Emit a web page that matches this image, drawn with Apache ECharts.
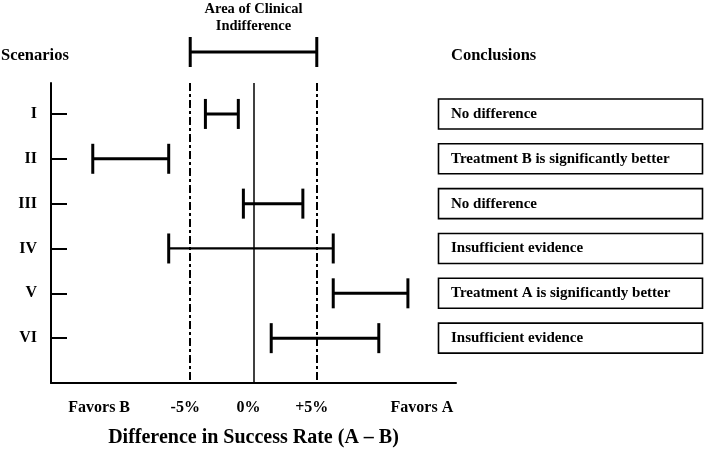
<!DOCTYPE html>
<html>
<head>
<meta charset="utf-8">
<script src="https://cdn.jsdelivr.net/npm/echarts@6/dist/echarts.min.js"></script>
<style>html,body{margin:0;padding:0;background:#fff}#c{width:705px;height:449px}</style>
</head>
<body>
<div id="c"></div>
<script>
// ---- data ----
var scenarios = ['I', 'II', 'III', 'IV', 'V', 'VI'];
var lowerBounds = [-3.8, -12.7, -0.8, -6.7, 6.3, 1.4];
var upperBounds = [-1.2, -6.7, 3.9, 6.3, 12.2, 9.9];
var conclusions = ['No difference', 'Treatment B is significantly better', 'No difference',
  'Insufficient evidence', 'Treatment A is significantly better', 'Insufficient evidence'];
var indifferenceRange = [-5, 5];
var referenceLines = [-5, 0, 5];
var xLabelValues = [-11.8, -5, 0, 5, 13.7];
var xLabelTexts = ['Favors B', '-5%', '0%', '+5%', 'Favors A'];

var FONT = '"Liberation Serif", "Times New Roman", serif';
var rows = scenarios.map(function (s, i) { return i + 1; });

var barData = scenarios.map(function (s, i) { return [lowerBounds[i], upperBounds[i], rows[i]]; });
var boxData = conclusions.map(function (t, i) { return { value: [0, rows[i]], name: t }; });

function capShape(x, y, h) { return { x1: x, y1: y - h, x2: x, y2: y + h }; }

var chart = echarts.init(document.getElementById('c'), null, { renderer: 'canvas' });
chart.setOption({
  animation: false,
  backgroundColor: '#fff',
  grid: { left: 51, top: 83, width: 405, height: 300, containLabel: false, outerBoundsMode: 'none' },
  xAxis: {
    type: 'value', min: -16, max: 16,
    axisLine: { show: true, onZero: false, lineStyle: { color: '#000', width: 2 } },
    axisTick: { show: false },
    splitLine: { show: false },
    axisLabel: {
      customValues: xLabelValues,
      formatter: function (v) { var i = xLabelValues.indexOf(v); return i >= 0 ? xLabelTexts[i] : ''; },
      fontFamily: FONT, fontWeight: 'bold', fontSize: 16, color: '#000', margin: 17,
      padding: [0, 10, 0, 0]
    },
    name: 'Difference in Success Rate (A \u2013 B)',
    nameLocation: 'middle', nameGap: 45,
    nameTextStyle: { fontFamily: FONT, fontWeight: 'bold', fontSize: 20, color: '#000' }
  },
  yAxis: {
    type: 'value', inverse: true, min: 0.31, max: 7,
    axisLine: { show: true, onZero: false, lineStyle: { color: '#000', width: 2 } },
    axisTick: { show: true, inside: true, length: 16, customValues: rows, lineStyle: { color: '#000', width: 2 } },
    splitLine: { show: false },
    axisLabel: {
      customValues: rows,
      formatter: function (v) { return scenarios[v - 1] || ''; },
      fontFamily: FONT, fontWeight: 'bold', fontSize: 16, color: '#000', margin: 14
    }
  },
  graphic: [
    { type: 'text', left: 1, top: 47, style: { text: 'Scenarios', font: 'bold 16.5px ' + FONT, fill: '#000' } },
    { type: 'text', left: 451, top: 47, style: { text: 'Conclusions', font: 'bold 16.5px ' + FONT, fill: '#000' } }
  ],
  series: [
    {
      type: 'custom', name: 'scenarios', clip: false,
      data: barData,
      renderItem: function (params, api) {
        var s = api.coord([api.value(0), api.value(2)]);
        var e = api.coord([api.value(1), api.value(2)]);
        var lw = scenarios[params.dataIndex] === 'IV' ? 2.2 : 3;
        return {
          type: 'group', children: [
            { type: 'line', shape: { x1: s[0], y1: s[1], x2: e[0], y2: e[1] }, style: { stroke: '#000', lineWidth: lw } },
            { type: 'line', shape: capShape(s[0], s[1], 15), style: { stroke: '#000', lineWidth: 3 } },
            { type: 'line', shape: capShape(e[0], e[1], 15), style: { stroke: '#000', lineWidth: 3 } }
          ]
        };
      },
      markLine: {
        silent: true, symbol: 'none', label: { show: false },
        data: referenceLines.map(function (v) {
          return {
            xAxis: v,
            lineStyle: v === 0 ? { color: '#000', width: 1.5, type: 'solid' }
                               : { color: '#000', width: 2, type: [8, 3, 3, 3] }
          };
        })
      },
      z: 3
    },
    {
      type: 'custom', name: 'indifference', clip: false,
      data: [[indifferenceRange[0], indifferenceRange[1], 1]],
      renderItem: function (params, api) {
        var x1 = api.coord([api.value(0), 1])[0];
        var x2 = api.coord([api.value(1), 1])[0];
        var y = 52;
        return {
          type: 'group', children: [
            { type: 'line', shape: { x1: x1, y1: y, x2: x2, y2: y }, style: { stroke: '#000', lineWidth: 3 } },
            { type: 'line', shape: capShape(x1, y, 15), style: { stroke: '#000', lineWidth: 3 } },
            { type: 'line', shape: capShape(x2, y, 15), style: { stroke: '#000', lineWidth: 3 } },
            { type: 'text', x: (x1 + x2) / 2, y: 34, style: {
                text: 'Area of Clinical\nIndifference', fill: '#000', align: 'center', verticalAlign: 'bottom',
                font: 'bold 14.5px ' + FONT, lineHeight: 16.5 } }
          ]
        };
      }
    },
    {
      type: 'custom', name: 'conclusions', clip: false,
      data: boxData,
      renderItem: function (params, api) {
        var y = api.coord([0, api.value(1)])[1];
        return {
          type: 'group', children: [
            { type: 'rect', shape: { x: 438.5, y: y - 15, width: 264, height: 30 },
              style: { fill: '#fff', stroke: '#000', lineWidth: 1.6 } },
            { type: 'text', x: 451, y: y, style: {
                text: conclusions[params.dataIndex], fill: '#000', align: 'left', verticalAlign: 'middle',
                font: 'bold 15px ' + FONT } }
          ]
        };
      }
    }
  ]
});
</script>
</body>
</html>
